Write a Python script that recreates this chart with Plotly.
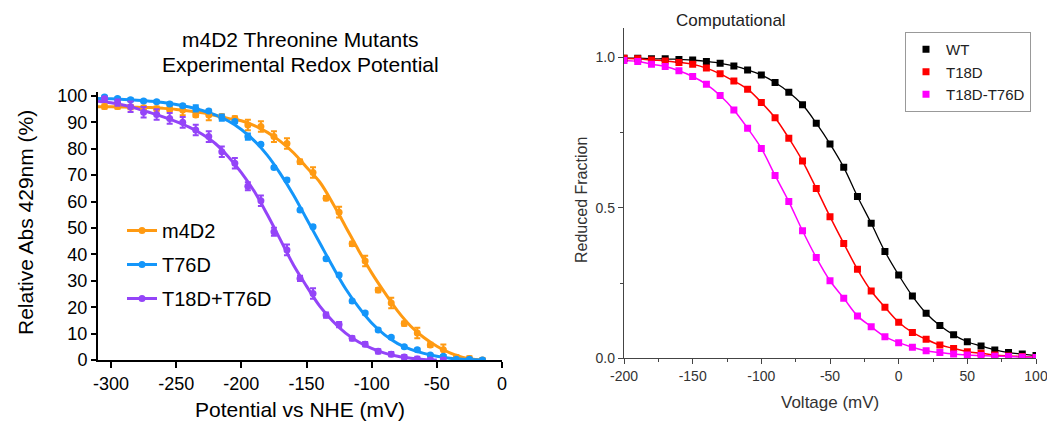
import plotly.graph_objects as go

W, H = 1047, 421

# ---------------- Left panel: experimental ----------------
pot_pts = [-305, -295, -285, -275, -265, -255, -245, -235, -225, -215,
           -205, -195, -185, -175, -165, -155, -145, -135, -125, -115,
           -105, -95, -85, -75, -65, -55, -45, -35, -25, -15]

m4d2_pts = [96.0, 96.0, 95.8, 95.5, 95.2, 95.0, 94.7, 92.8, 92.8, 92.2,
            91.5, 89.0, 88.4, 84.6, 82.0, 75.1, 71.0, 61.3, 56.0, 44.0,
            37.5, 26.5, 21.6, 13.8, 10.2, 5.7, 3.9, 1.0, 0.6, 0.0]
m4d2_err = [0.8, 0.8, 0.8, 0.8, 0.8, 0.8, 2.0, 0.8, 2.0, 0.8,
            0.8, 2.0, 2.0, 2.0, 2.0, 0.8, 2.0, 0.8, 2.0, 0.8,
            2.0, 0.8, 2.0, 0.8, 2.0, 0.8, 2.0, 0.8, 0.8, 0.8]

t76d_pts = [99.6, 99.0, 98.6, 98.1, 97.8, 97.0, 96.3, 95.3, 94.3, 91.8,
            90.3, 84.6, 81.7, 72.9, 68.2, 56.8, 50.5, 38.3, 32.2, 22.3,
            17.8, 11.4, 8.6, 5.0, 3.9, 1.9, 1.4, 0.3, 0.3, 0.0]
t76d_err = [0.5, 0.5, 0.5, 0.5, 0.5, 0.5, 0.5, 1.2, 0.5, 1.2,
            0.5, 1.2, 0.5, 0.5, 0.5, 0.5, 0.5, 0.5, 0.5, 0.5,
            0.5, 0.5, 0.5, 0.5, 0.5, 0.5, 0.5, 0.5, 0.5, 0.5]

dbl_pts = [98.9, 97.5, 95.9, 93.8, 93.0, 91.5, 90.0, 87.1, 84.6, 78.9,
           74.5, 65.8, 60.3, 48.6, 41.7, 30.9, 25.2, 17.0, 13.4, 8.2,
           6.0, 3.3, 2.2, 1.1, 0.4, 0.0, 0.0, None, None, None]
dbl_err = [0.8, 1.2, 2.0, 2.0, 2.0, 2.0, 2.0, 2.0, 2.0, 2.0,
           2.0, 1.5, 2.0, 1.5, 2.0, 1.0, 2.0, 1.0, 1.0, 0.8,
           0.8, 0.8, 0.8, 0.8, 0.8, 0.8, 0.8, 0.0, 0.0, 0.0]

pot_fit = [-310, -300, -290, -280, -270, -260, -250, -240, -230, -220,
           -210, -200, -190, -180, -170, -160, -150, -140, -130, -120,
           -110, -100, -90, -80, -70, -60, -50, -40, -30, -20, -15]
m4d2_fit = [95.9, 95.9, 95.8, 95.7, 95.6, 95.3, 94.9, 94.3, 93.6, 92.6,
            91.5, 90.6, 88.8, 86.2, 82.8, 78.5, 73.0, 67.5, 59.5, 50.5,
            41.5, 33.0, 25.5, 18.5, 12.8, 8.5, 5.2, 2.7, 1.0, 0.2, 0.0]
t76d_fit = [99.0, 98.9, 98.7, 98.4, 98.0, 97.5, 96.8, 95.8, 94.5, 92.8,
            90.5, 87.3, 83.0, 77.5, 70.5, 62.5, 53.5, 44.5, 35.5, 27.0,
            20.0, 14.0, 9.5, 6.2, 4.0, 2.5, 1.4, 0.7, 0.3, 0.1, 0.0]
dbl_fit = [98.0, 97.4, 96.5, 95.2, 93.7, 92.1, 90.3, 88.2, 85.5, 82.0,
           77.0, 71.0, 63.8, 55.0, 45.5, 36.0, 28.0, 20.5, 14.8, 10.2,
           6.8, 4.4, 2.6, 1.4, 0.7, 0.2, 0.0, None, None, None, None]

left_names = ["m4D2", "T76D", "T18D+T76D"]
left_colors = ["#FF9A12", "#1496FA", "#9444F8"]
left_xticks = [-300, -250, -200, -150, -100, -50, 0]
left_xtick_text = ["-300", "-250", "-200", "-150", "-100", "-50", "0"]
left_yticks = [0, 10, 20, 30, 40, 50, 60, 70, 80, 90, 100]

# ---------------- Right panel: computational ----------------
volt = [-200, -190, -180, -170, -160, -150, -140, -130, -120, -110,
        -100, -90, -80, -70, -60, -50, -40, -30, -20, -10,
        0, 10, 20, 30, 40, 50, 60, 70, 80, 90, 100]
wt = [0.998, 0.998, 0.996, 0.996, 0.994, 0.992, 0.987, 0.981, 0.972, 0.959,
      0.942, 0.917, 0.885, 0.843, 0.782, 0.713, 0.635, 0.538, 0.449, 0.355,
      0.277, 0.207, 0.150, 0.109, 0.078, 0.055, 0.041, 0.028, 0.019, 0.014, 0.009]
t18d = [0.998, 0.996, 0.992, 0.989, 0.984, 0.978, 0.965, 0.946, 0.922, 0.895,
        0.851, 0.800, 0.732, 0.656, 0.565, 0.471, 0.382, 0.296, 0.224, 0.170,
        0.120, 0.086, 0.063, 0.044, 0.033, 0.022, 0.017, 0.011, 0.008, 0.006, 0.003]
t18d_t76d = [0.990, 0.987, 0.978, 0.970, 0.956, 0.937, 0.911, 0.874, 0.826, 0.765,
             0.698, 0.608, 0.521, 0.424, 0.335, 0.258, 0.200, 0.141, 0.105, 0.072,
             0.052, 0.037, 0.025, 0.019, 0.014, 0.011, 0.009, 0.007, 0.006, 0.004, 0.003]
right_names = ["WT", "T18D", "T18D-T76D"]
right_colors = ["#000000", "#FF0000", "#FF00FF"]
right_xticks = [-200, -150, -100, -50, 0, 50, 100]
right_xtick_text = ["-200", "-150", "-100", "-50", "0", "50", "100"]
right_yticks = [0, 0.5, 1.0]
right_ytick_text = ["0.0", "0.5", "1.0"]

FONT = "Liberation Sans, Arial, Helvetica, sans-serif"

fig = go.Figure()

# left fit lines
for fit, col in zip([m4d2_fit, t76d_fit, dbl_fit], left_colors):
    fig.add_trace(go.Scatter(x=pot_fit, y=fit, mode="lines", line=dict(color=col, width=3, shape="spline"),
                             showlegend=False, hoverinfo="skip", xaxis="x", yaxis="y"))
# left points
for i, (pts, err) in enumerate(zip([m4d2_pts, t76d_pts, dbl_pts], [m4d2_err, t76d_err, dbl_err])):
    fig.add_trace(go.Scatter(
        x=pot_pts, y=pts, mode="markers", name=left_names[i], showlegend=False,
        marker=dict(color=left_colors[i], size=7),
        error_y=dict(type="data", array=err, visible=True, color=left_colors[i], thickness=2, width=3),
        xaxis="x", yaxis="y"))
# left legend entries (legend-only, no data)
for i in range(3):
    fig.add_trace(go.Scatter(
        x=[None], y=[None], mode="lines+markers", name=left_names[i],
        line=dict(color=left_colors[i], width=3), marker=dict(color=left_colors[i], size=7),
        xaxis="x", yaxis="y", legend="legend", legendgroup="g%d" % i))

# right lines
for vals, col, w in zip([wt, t18d, t18d_t76d], right_colors, [1.3, 1.5, 1.5]):
    fig.add_trace(go.Scatter(x=volt, y=vals, mode="lines", line=dict(color=col, width=w, shape="spline"),
                             showlegend=False, hoverinfo="skip", xaxis="x2", yaxis="y2"))
for vals, col, nm in zip([wt, t18d, t18d_t76d], right_colors, right_names):
    fig.add_trace(go.Scatter(x=volt, y=vals, mode="markers", name=nm,
                             marker=dict(color=col, size=7, symbol="square"),
                             xaxis="x2", yaxis="y2", legend="legend2"))

def px_x(p):
    return p / W

def px_y(p):
    return 1 - p / H

fig.update_layout(
    width=W, height=H,
    margin=dict(l=0, r=0, t=0, b=0, autoexpand=False),
    paper_bgcolor="white", plot_bgcolor="white",
    font=dict(family=FONT, color="#000000"),
    xaxis=dict(domain=[px_x(98), px_x(502)], range=[-310, 0], tickvals=left_xticks, ticktext=left_xtick_text,
               showgrid=False, zeroline=False, showline=True, linecolor="#000", linewidth=2, automargin=False,
               ticks="outside", ticklen=6, tickwidth=2, tickcolor="#000",
               tickfont=dict(size=18, family=FONT, color="#000"), anchor="y"),
    yaxis=dict(domain=[px_y(360), px_y(92)], range=[0, 101.5], tickvals=left_yticks,
               showgrid=False, zeroline=False, showline=True, linecolor="#000", linewidth=2, automargin=False,
               ticks="outside", ticklen=5, tickwidth=2, tickcolor="#000",
               tickfont=dict(size=18, family=FONT, color="#000"), anchor="x"),
    xaxis2=dict(domain=[px_x(624), px_x(1036)], range=[-200, 100], tickvals=right_xticks, ticktext=right_xtick_text,
                showgrid=False, zeroline=False, showline=True, linecolor="#444", linewidth=1.3, automargin=False,
                ticks="outside", ticklen=5, tickwidth=1.3, tickcolor="#444", ticklabeloverflow="allow",
                minor=dict(ticks="outside", ticklen=3, tickwidth=1.2, tickcolor="#444", dtick=25, tick0=0, showgrid=False),
                tickfont=dict(size=14, family=FONT, color="#333"), anchor="y2"),
    yaxis2=dict(domain=[px_y(358.3), px_y(27.5)], range=[0, 1.1], tickvals=right_yticks, ticktext=right_ytick_text,
                showgrid=False, zeroline=False, showline=True, linecolor="#444", linewidth=1.3, automargin=False,
                ticks="outside", ticklen=5, tickwidth=1.3, tickcolor="#444",
                minor=dict(ticks="outside", ticklen=3, tickwidth=1.2, tickcolor="#444", dtick=0.25, tick0=0, showgrid=False),
                tickfont=dict(size=14, family=FONT, color="#333"), anchor="x2"),
    legend=dict(x=px_x(122), y=px_y(211), xanchor="left", yanchor="top", bgcolor="rgba(0,0,0,0)",
                font=dict(size=20, family=FONT, color="#000"), tracegroupgap=5, itemwidth=30),
    legend2=dict(x=px_x(905), y=px_y(32), xanchor="left", yanchor="top", bgcolor="white",
                 bordercolor="#999", borderwidth=1, font=dict(size=15, family=FONT, color="#222"),
                 entrywidth=103),
    annotations=[
        dict(text="m4D2 Threonine Mutants", x=px_x(300), y=px_y(40), xref="paper", yref="paper",
             showarrow=False, font=dict(size=21, family=FONT, color="#000"), xanchor="center", yanchor="middle"),
        dict(text="Experimental Redox Potential", x=px_x(300), y=px_y(64), xref="paper", yref="paper",
             showarrow=False, font=dict(size=21, family=FONT, color="#000"), xanchor="center", yanchor="middle"),
        dict(text="Potential vs NHE (mV)", x=px_x(300), y=px_y(409), xref="paper", yref="paper",
             showarrow=False, font=dict(size=21, family=FONT, color="#000"), xanchor="center", yanchor="middle"),
        dict(text="Relative Abs 429nm (%)", x=px_x(25), y=px_y(223), xref="paper", yref="paper", textangle=-90,
             showarrow=False, font=dict(size=21, family=FONT, color="#000"), xanchor="center", yanchor="middle"),
        dict(text="Computational", x=px_x(731), y=px_y(20), xref="paper", yref="paper",
             showarrow=False, font=dict(size=17, family=FONT, color="#222"), xanchor="center", yanchor="middle"),
        dict(text="Voltage (mV)", x=px_x(830), y=px_y(402), xref="paper", yref="paper",
             showarrow=False, font=dict(size=17, family=FONT, color="#333"), xanchor="center", yanchor="middle"),
        dict(text="Reduced Fraction", x=px_x(581), y=px_y(200), xref="paper", yref="paper", textangle=-90,
             showarrow=False, font=dict(size=16, family=FONT, color="#333"), xanchor="center", yanchor="middle"),
    ],
)

fig.write_html("out.html", config={"displayModeBar": False},
               post_script="document.body.style.margin='0px';document.body.style.overflow='hidden';")
